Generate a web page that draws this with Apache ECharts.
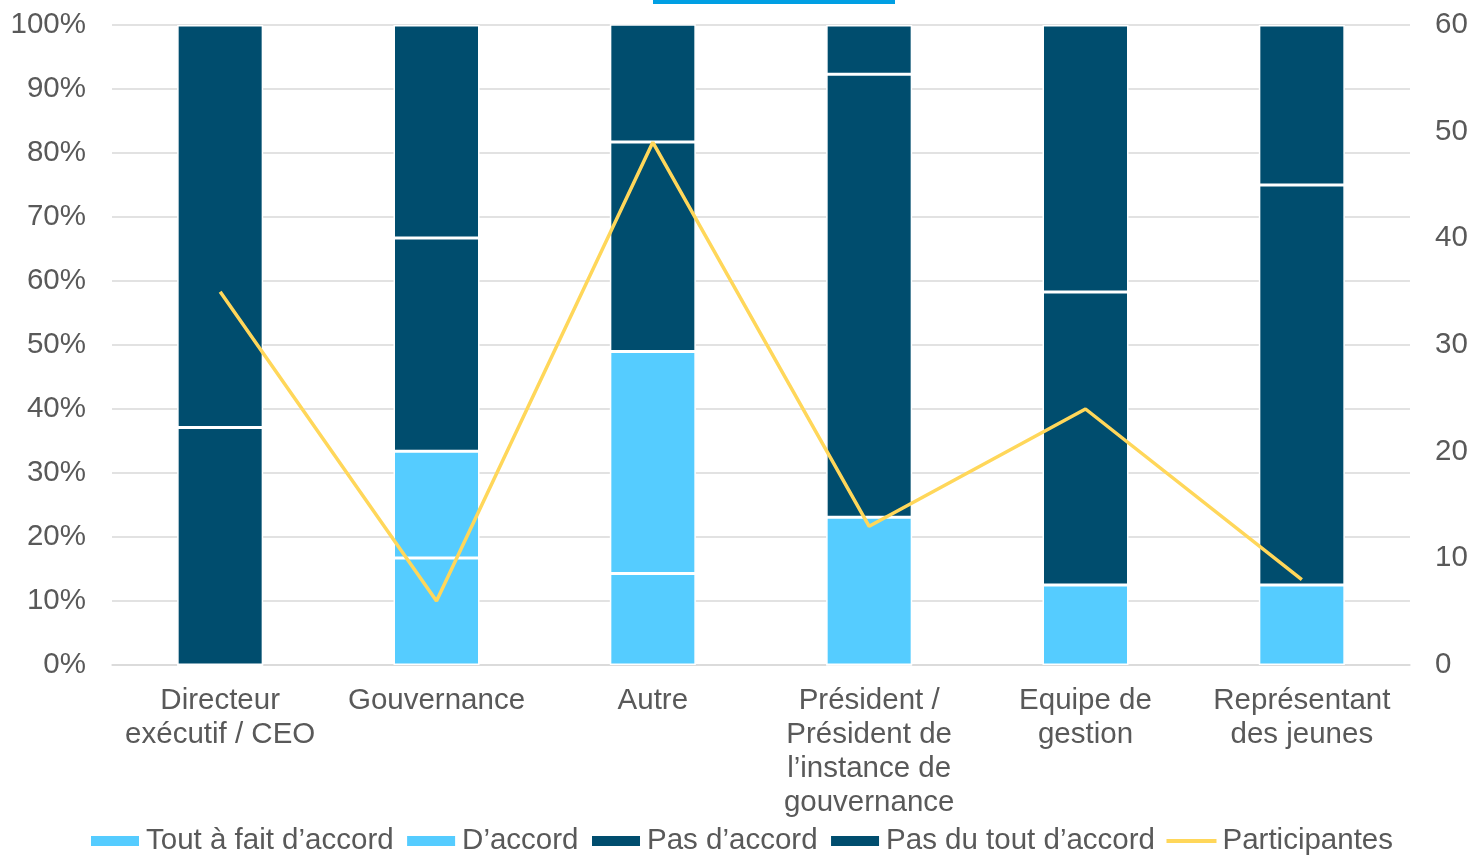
<!DOCTYPE html>
<html><head><meta charset="utf-8">
<script src="https://cdn.jsdelivr.net/npm/echarts@6/dist/echarts.min.js"></script>
<style>html,body{margin:0;padding:0;background:#fff}#c{width:1471px;height:856px}</style>
</head><body><div id="c"></div>
<script>
const categories = ["Directeur\nexécutif / CEO", "Gouvernance", "Autre", "Président /\nPrésident de\nl’instance de\ngouvernance", "Equipe de\ngestion", "Représentant\ndes jeunes"];
const toutAFait = [0, 16.7, 14.3, 0, 12.5, 12.5];
const dAccord = [0, 16.7, 34.7, 23.1, 0, 0];
const pasDAccord = [37.1, 33.3, 32.7, 69.2, 45.8, 62.5];
const pasDuTout = [62.9, 33.3, 18.4, 7.7, 41.7, 25.0];
const participantes = [35, 6, 49, 13, 24, 8];
const leftTicks = ["0%","10%","20%","30%","40%","50%","60%","70%","80%","90%","100%"];

const LIGHT = '#55CCFF', DARK = '#004D6E', LINE = '#FFD75A';
const txt = '#595959', font = 'Liberation Sans, Arial, sans-serif';
const FS = 29.5;
const bar = (name, data, color) => ({
  name, type: 'bar', stack: 's', data, barWidth: 86,
  itemStyle: { color, borderColor: '#fff', borderWidth: 1.5 },
  emphasis: { disabled: true }
});
const chart = echarts.init(document.getElementById('c'));
chart.setOption({
  animation: false,
  textStyle: { fontFamily: font },
  graphic: [{ type: 'rect', shape: { x: 653, y: 0, width: 242, height: 4 }, style: { fill: '#009FE3' } }],
  grid: { left: 112, right: 61, top: 25, bottom: 191 },
  legend: {
    bottom: -5, left: 84, itemWidth: 50, itemHeight: 12, itemGap: 11.5,
    textStyle: { fontSize: FS, color: txt, fontFamily: font, padding: [0, 0, 0, 1] },
    data: [
      { name: 'Tout à fait d’accord', icon: 'rect' },
      { name: 'D’accord', icon: 'rect' },
      { name: 'Pas d’accord', icon: 'rect' },
      { name: 'Pas du tout d’accord', icon: 'rect' },
      { name: 'Participantes', icon: 'path://M0,0 L50,0 L50,4 L0,4 Z' }
    ]
  },
  xAxis: {
    type: 'category', data: categories,
    axisLine: { lineStyle: { color: '#D9D9D9', width: 1.5 } },
    axisTick: { show: false },
    axisLabel: { color: txt, fontSize: FS, lineHeight: 34, margin: 19, interval: 0, fontFamily: font }
  },
  yAxis: [{
    type: 'value', min: 0, max: 100, interval: 10,
    axisLabel: { color: txt, fontSize: FS, margin: 26, fontFamily: font, formatter: v => leftTicks[Math.round(v / 10)] },
    splitLine: { lineStyle: { color: '#D9D9D9', width: 1.5 } },
    axisLine: { show: false }, axisTick: { show: false }
  }, {
    type: 'value', min: 0, max: 60, interval: 10,
    axisLabel: { color: txt, fontSize: FS, margin: 25, fontFamily: font },
    splitLine: { show: false }, axisLine: { show: false }, axisTick: { show: false }
  }],
  series: [
    bar('Tout à fait d’accord', toutAFait, LIGHT),
    bar('D’accord', dAccord, LIGHT),
    bar('Pas d’accord', pasDAccord, DARK),
    bar('Pas du tout d’accord', pasDuTout, DARK),
    { name: 'Participantes', type: 'line', yAxisIndex: 1, data: participantes,
      symbol: 'none', lineStyle: { color: LINE, width: 3.5 }, itemStyle: { color: LINE } }
  ]
});
</script></body></html>
